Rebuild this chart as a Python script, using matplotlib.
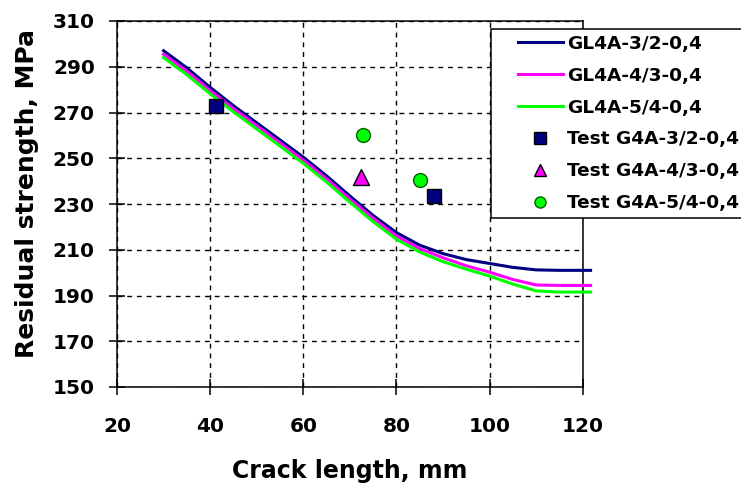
import matplotlib.pyplot as plt
from matplotlib.lines import Line2D
from matplotlib.legend_handler import HandlerLine2D

# calculated curves
crack = [30, 35, 40, 45, 50, 55, 60, 65, 70, 75, 80, 85, 90, 95, 100, 105, 110, 115, 121.7]
gl4a_32 = [297, 289.5, 281, 273, 265.5, 258, 250.5, 242.3, 233.5, 225, 217.5, 212, 208.3, 205.7, 204, 202.3, 201.2, 201, 201]
gl4a_43 = [295.5, 288, 279.6, 271.7, 264.2, 256.7, 249.2, 241, 232.2, 223.8, 216, 210.5, 206.5, 203, 200.2, 197, 194.6, 194.4, 194.4]
gl4a_54 = [294, 286.5, 278.2, 270.3, 262.8, 255.3, 247.8, 239.6, 230.8, 222.3, 214.6, 209, 204.8, 201.5, 198.5, 195, 192, 191.5, 191.5]

# test results
test_32_x = [41.2, 88]
test_32_y = [273, 233.4]
test_43_x = [72.4]
test_43_y = [242]
test_54_x = [72.9, 85]
test_54_y = [260, 240.7]

xticks = [20, 40, 60, 80, 100, 120]
yticks = [150, 170, 190, 210, 230, 250, 270, 290, 310]

plt.rcParams["font.family"] = "DejaVu Sans"
plt.rcParams["font.weight"] = "bold"

fig = plt.figure(figsize=(7.41, 4.91), dpi=100)
ax = fig.add_axes([117 / 741, 1 - 387 / 491, 465.7 / 741, 366 / 491])

ax.plot(crack, gl4a_32, color="#000080", lw=2.2, label="GL4A-3/2-0,4", clip_on=False, zorder=3)
ax.plot(crack, gl4a_43, color="#FF00FF", lw=2.2, label="GL4A-4/3-0,4", clip_on=False, zorder=3)
ax.plot(crack, gl4a_54, color="#00FF00", lw=2.2, label="GL4A-5/4-0,4", clip_on=False, zorder=3)

ax.plot(test_32_x, test_32_y, ls="none", marker="s", ms=10.5, mfc="#000080", mec="black",
        mew=1, label="Test G4A-3/2-0,4", zorder=4)
ax.plot(test_43_x, test_43_y, ls="none", marker="^", ms=11.5, mfc="#FF00FF", mec="black",
        mew=1, label="Test G4A-4/3-0,4", zorder=4)
ax.plot(test_54_x, test_54_y, ls="none", marker="o", ms=10, mfc="#00FF00", mec="#006000",
        mew=1, label="Test G4A-5/4-0,4", zorder=4)

ax.set_xlim(20, 120)
ax.set_ylim(150, 310)
ax.set_xticks(xticks)
ax.set_yticks(yticks)
ax.grid(True, color="black", lw=1.0, linestyle=(0, (3.5, 3.5)))
ax.set_axisbelow(True)

for sp in ax.spines.values():
    sp.set_linewidth(1.1)
    sp.set_color("black")

ax.tick_params(axis="both", direction="inout", length=11, width=1.1, labelsize=14.5)
ax.tick_params(axis="x", pad=16)
ax.tick_params(axis="y", pad=10.5)
for lab in ax.get_xticklabels() + ax.get_yticklabels():
    lab.set_fontweight("bold")

ax.set_xlabel("Crack length, mm", fontsize=17, fontweight="bold")
ax.set_ylabel("Residual strength, MPa", fontsize=18, fontweight="bold")
ax.xaxis.set_label_coords(0.5, -(459 - 387) / 366)
ax.yaxis.set_label_coords((39 - 117) / 465.7, (387 - 193) / 366)

leg = ax.legend(loc="upper left", bbox_to_anchor=(491 / 741, 1 - 29 / 491),
                bbox_transform=fig.transFigure, borderaxespad=0,
                prop={"size": 13.3, "weight": "bold"},
                handler_map={Line2D: HandlerLine2D(xpad=1.13)},
                handlelength=3.57, handletextpad=0.22, borderpad=0.32,
                labelspacing=0.75, markerscale=0.8,
                fancybox=False, framealpha=1, edgecolor="black")
leg.get_frame().set_linewidth(1.1)

plt.savefig("out.png", dpi=100)
